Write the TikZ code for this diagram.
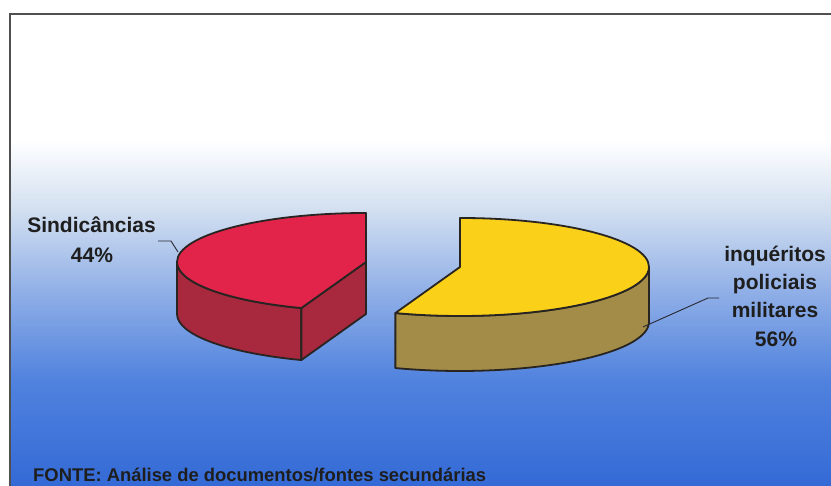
\documentclass[tikz,border=0pt]{standalone}
\usepackage{fontspec}
\setmainfont{Liberation Sans}
\usetikzlibrary{calc}
\definecolor{bgA}{RGB}{210,223,240}
\definecolor{bgB}{RGB}{145,176,231}
\definecolor{bgC}{RGB}{80,130,222}
\definecolor{bgD}{RGB}{52,106,214}
\definecolor{framegray}{RGB}{80,80,80}
\definecolor{edgegray}{RGB}{40,36,34}
\definecolor{redtop}{RGB}{226,36,74}
\definecolor{redside}{RGB}{168,40,62}
\definecolor{yeltop}{RGB}{250,208,24}
\definecolor{yelside}{RGB}{162,140,72}
\definecolor{txt}{RGB}{30,30,30}
\definecolor{leadgray}{RGB}{40,40,50}
\begin{document}
\begin{tikzpicture}[x=1pt,y=1pt,
  pieedge/.style={draw=edgegray, line width=1.8pt, line join=round},
  lbl/.style={font=\bfseries\fontsize{21}{25}\selectfont, text=txt, inner sep=0pt, anchor=base},
  srcnote/.style={font=\bfseries\fontsize{18.4}{22}\selectfont, text=txt, inner sep=0pt, anchor=base west},
  leader/.style={draw=leadgray, line width=0.9pt}]
\useasboundingbox (0,0) rectangle (831,486);
\clip (0,0) rectangle (831,486);
\fill[white] (0,0) rectangle (831,486);
% background gradient
\shade[top color=white,bottom color=bgA] (10,275.5) rectangle (831,346);
\shade[top color=bgA,bottom color=bgB] (10,195.5) rectangle (831,276);
\shade[top color=bgB,bottom color=bgC] (10,105.5) rectangle (831,196);
\shade[top color=bgC,bottom color=bgD] (10,0) rectangle (831,106);
% frame
\draw[framegray, line width=1.5pt] (831,472) -- (10,472) -- (10,0);
% red slice (Sindicâncias)
\coordinate (rc) at (366,224);
\filldraw[pieedge, fill=redside] ($(rc)+(180:189 and 49)$) arc[start angle=180,end angle=250,x radius=189,y radius=49] -- ++(0,-52) arc[start angle=250,end angle=180,x radius=189,y radius=49] -- cycle;
\filldraw[pieedge, fill=redside] ($(rc)+(250:189 and 49)$) -- (rc) -- ++(0,-52) -- ($(rc)+(250:189 and 49)+(0,-52)$) -- cycle;
\filldraw[pieedge, fill=redtop] (rc) -- ++(0,49) arc[start angle=90,end angle=250,x radius=189,y radius=49] -- cycle;
% yellow slice (inquéritos)
\coordinate (yc) at (460,219);
\filldraw[pieedge, fill=yelside] ($(yc)+(-110:189 and 49)$) arc[start angle=-110,end angle=0,x radius=189,y radius=49] -- ++(0,-55) arc[start angle=0,end angle=-110,x radius=189,y radius=49] -- cycle;
\filldraw[pieedge, fill=yeltop] (yc) -- ++(0,49) arc[start angle=90,end angle=-110,x radius=189,y radius=49] -- cycle;
% labels
\node[lbl] (sind) at (91.5,253) {Sindicâncias};
\node[lbl] (sindp) at (92,223) {44\%};
\node[lbl] (inq1) at (775,224) {inquéritos};
\node[lbl] (inq2) at (775,196) {policiais};
\node[lbl] (inq3) at (775,168) {militares};
\node[lbl] (inq4) at (776,139) {56\%};
\node[srcnote] (fonte) at (33,4.5) {FONTE: Análise de documentos/fontes secundárias};
% leader lines
\coordinate (rlead) at (158,245);
\coordinate (redtip) at (178,234);
\coordinate (ylead) at (719,188);
\coordinate (yeltip) at (643,159);
\draw[leader] (rlead) -- ++(13,0) -- (redtip);
\draw[leader] (ylead) -- ++(-11,0) -- (yeltip);
\end{tikzpicture}
\end{document}
